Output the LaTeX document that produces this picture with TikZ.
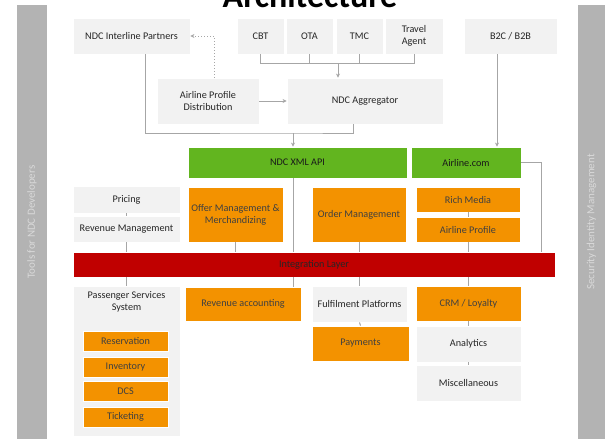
\documentclass[tikz,border=0pt]{standalone}
\usepackage{fontspec}
\setmainfont{Carlito}
\usepackage{tikz}
\usetikzlibrary{
    arrows.meta,
    calc,
    positioning
}
\definecolor{boxgrey}{HTML}{F2F2F2}
\definecolor{modorange}{HTML}{F39200}
\definecolor{apigreen}{HTML}{62B51F}
\definecolor{layerred}{HTML}{C00000}
\definecolor{sidegrey}{HTML}{B3B3B3}
\definecolor{linegrey}{HTML}{A6A6A6}
\tikzset{
    wh/.style 2 args={minimum width=#1pt, minimum height=#2pt},
    block/.style={draw=white, line width=0.8pt, inner sep=1pt, align=center,
        font=\fontsize{10.2}{12}\selectfont},
    plain/.style={block, fill=boxgrey, text=black!85},
    module/.style={block, fill=modorange, text=black!75},
    api/.style={block, fill=apigreen, text=black!90},
    layer/.style={block, fill=layerred, text=black!85},
    sidebar/.style={fill=sidegrey, text=black!15, inner sep=0pt, rotate=90,
        font=\fontsize{11}{13}\selectfont},
    link/.style={draw=linegrey, line width=1pt},
    flowlink/.style={link, -{Stealth[length=4pt, width=4pt]}},
    dotlink/.style={link, dotted, -{Stealth[length=4pt, width=4pt]}},
    heading/.style={font=\bfseries\fontsize{34}{34}\selectfont, anchor=base}
}

\begin{document}
\begin{tikzpicture}[x=1pt, y=-1pt]
    \clip (0,0) rectangle (605,439);
    \fill[white] (0,0) rectangle (605,439);
    \node[heading] (title) at (310,7) {Architecture};
    \node[sidebar, wh={434}{30}] (tools) at (32,222) {Tools for NDC Developers};
    \node[sidebar, wh={434}{27}] (secure) at (591.5,222) {Security Identity Management};

    \node[plain, wh={117}{36}] (ilp) at (131.5,36) {NDC Interline Partners};
    \node[plain, wh={47}{36}] (cbt) at (260.5,36) {CBT};
    \node[plain, wh={47}{36}] (ota) at (309.5,36) {OTA};
    \node[plain, wh={47}{36}] (tmc) at (359.5,36) {TMC};
    \node[plain, wh={58}{36}] (ta) at (414,36) {Travel\\Agent};
    \node[plain, wh={93}{36}] (b2c) at (510.5,36) {B2C / B2B};
    \node[plain, wh={102}{46}] (apd) at (208,101) {Airline Profile\\Distribution};
    \node[plain, wh={156}{46}] (agg) at (365,101) {NDC Aggregator};

    \node[api, wh={219}{31}] (xmlapi) at (297.5,162.5) {NDC XML API};
    \node[api, wh={110}{31}] (web) at (466,162.5) {Airline.com};

    \node[plain, wh={107}{27}] (pricing) at (126.5,199.5) {Pricing};
    \node[plain, wh={107}{26}] (revmgmt) at (126.5,229) {Revenue Management};
    \node[module, wh={95}{55}] (offer) at (235.5,214.5) {Offer Management \&\\Merchandizing};
    \node[module, wh={94}{55}] (order) at (359,214.5) {Order Management};
    \node[module, wh={104}{25}] (rich) at (468,199.5) {Rich Media};
    \node[module, wh={104}{25}] (profile) at (468,229.5) {Airline Profile};

    \node[layer, wh={482}{25}] (integ) at (314,264.5) {Integration Layer};

    \node[plain, wh={107}{150}] (pss) at (126.5,361) {};
    \node[font=\fontsize{10.2}{12}\selectfont, align=center, text=black!85] (psstitle)
        at ([yshift=-16.5pt]pss.north) {Passenger Services\\System};
    \node[module, wh={85}{20}] (resv) at (125.5,341) {Reservation};
    \node[module, wh={85}{20}] (inv) at (125.5,367) {Inventory};
    \node[module, wh={85}{20}] (dcs) at (125.5,391.5) {DCS};
    \node[module, wh={85}{20}] (tkt) at (125.5,417) {Ticketing};
    \node[module, wh={116}{34}] (revacc) at (243,304) {Revenue accounting};
    \node[plain, wh={95}{36}] (fulfil) at (359.5,304) {Fulfilment Platforms};
    \node[module, wh={97}{35}] (pay) at (360.5,343.5) {Payments};
    \node[module, wh={105}{35}] (crm) at (468.5,303.5) {CRM / Loyalty};
    \node[plain, wh={105}{36}] (analytics) at (468.5,344) {Analytics};
    \node[plain, wh={105}{36}] (misc) at (468.5,383) {Miscellaneous};

    \coordinate (bus) at (338,63);
    \coordinate (feed) at (293,133);
    \draw[link] (cbt.south) |- (ta.south |- bus) -- (ta.south);
    \draw[link] (ota.south) -- (ota.south |- bus);
    \draw[link] (tmc.south) -- (tmc.south |- bus);
    \draw[flowlink] (bus) -- (bus |- agg.north);
    \draw[link] ([xshift=13.5pt]ilp.south) |- (feed) -| ([xshift=-12pt]agg.south);
    \draw[flowlink] (feed) -- (feed |- xmlapi.north);
    \draw[flowlink] (apd.east) -- (agg.west);
    \draw[dotlink] ([xshift=6pt]apd.north) |- (ilp.east);
    \draw[flowlink] ([xshift=-13.5pt]b2c.south) coordinate (b2cout) -- (b2cout |- web.north);
    \draw[link] (web.east) -| ([xshift=-14pt]integ.north east);

    \draw[link] (xmlapi.south -| feed) -- (integ.north -| feed);
    \draw[link] (integ.south -| feed) -- (revacc.north -| feed);
    \foreach \a in {revmgmt, offer, order, profile}
        \draw[link] (\a.south) -- (\a.south |- integ.north);
    \foreach \b in {pss, fulfil, crm}
        \draw[link] (\b.north |- integ.south) -- (\b.north);
    \foreach \a/\b in {pricing/revmgmt, fulfil/pay, rich/profile, crm/analytics, analytics/misc}
        \draw[link] (\a.south) -- (\b.north);
\end{tikzpicture}
\end{document}
